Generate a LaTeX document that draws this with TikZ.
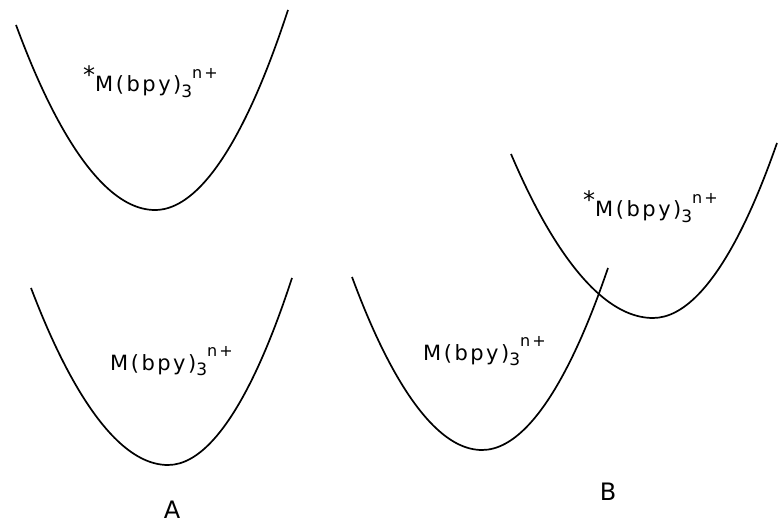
\documentclass[tikz,border=0pt]{standalone}
\usepackage{fontspec}
\newfontfamily\labfont[LetterSpace=12]{DejaVu Sans}
\newcommand{\cpxtext}{M(bpy)\raisebox{-0.45ex}{\fontsize{17}{17}\selectfont 3}\raisebox{1.2ex}{\fontsize{16}{16}\selectfont n+}}
\newcommand{\starcpx}{\raisebox{0.7ex}{\fontsize{24}{24}\selectfont *}\cpxtext}
\begin{document}
\begin{tikzpicture}[x=1pt,y=-1pt,
  well/.style={line width=1.7pt,black},
  lab/.style={inner sep=0pt,anchor=base west,font=\labfont\fontsize{21}{21}\selectfont},
  panel/.style={inner sep=0pt,anchor=base,font=\labfont\fontsize{24}{24}\selectfont}]
\useasboundingbox (0,0) rectangle (779,529);
\fill[white] (0,0) rectangle (779,529);
% panel A
\coordinate (a1l) at (16,25);
\coordinate (a1b) at (155,210);
\coordinate (a1r) at (288,10);
\draw[well] (a1l) parabola bend (a1b) (a1r);
\coordinate (a0l) at (31,288);
\coordinate (a0b) at (168,465);
\coordinate (a0r) at (292,278);
\draw[well] (a0l) parabola bend (a0b) (a0r);
% panel B
\coordinate (b0l) at (352,277);
\coordinate (b0b) at (482,450);
\coordinate (b0r) at (608,268);
\draw[well] (b0l) parabola bend (b0b) (b0r);
\coordinate (b1l) at (511,154);
\coordinate (b1b) at (653,318);
\coordinate (b1r) at (777,143);
\draw[well] (b1l) parabola bend (b1b) (b1r);
% labels
\node[lab] (ta1) at (83,92) {\starcpx};
\node[lab] (ta0) at (110,370) {\cpxtext};
\node[lab] (tb1) at (583,217) {\starcpx};
\node[lab] (tb0) at (423,360) {\cpxtext};
\node[panel] (pA) at (172,518) {A};
\node[panel] (pB) at (608,500) {B};
\end{tikzpicture}
\end{document}
